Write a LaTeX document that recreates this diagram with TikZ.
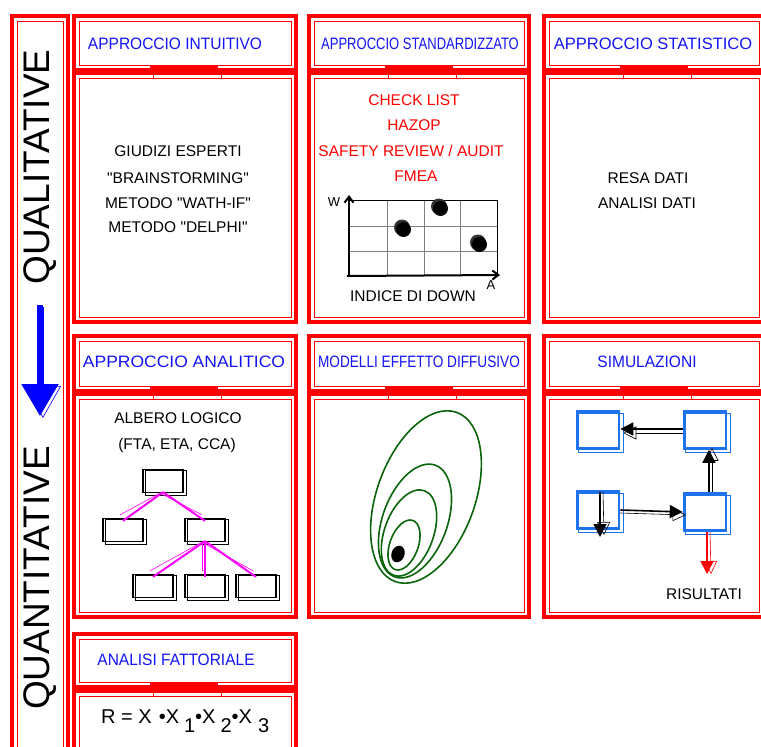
\documentclass[tikz,border=0pt]{standalone}
\usepackage{fontspec}
\setmainfont{Liberation Sans}
\usetikzlibrary{arrows.meta}
\definecolor{framered}{RGB}{255,0,0}
\definecolor{headblue}{RGB}{20,20,245}
\definecolor{simblue}{RGB}{30,115,235}
\definecolor{plumegreen}{RGB}{10,100,10}
\definecolor{treemagenta}{RGB}{255,0,255}

% double red frame: thick outer line and thin inset line
\newcommand\redframe[4]{%
  \draw[line width=3.4pt,framered] (#1,#2) rectangle (#3,#4);
  \draw[line width=0.9pt,framered] (#1+5,#2+5) rectangle (#3-5,#4-5);}
% red tab joining a header to its panel (centre x, joint y)
\newcommand\jointtab[2]{%
  \fill[framered] (#1-35,#2-5) rectangle (#1+33,#2+3);
  \draw[line width=0.9pt,framered] (#1-32,#2-2) rectangle (#1+36,#2+8);}
\newcommand\sq{\textquotedbl}

\begin{document}
\begin{tikzpicture}[x=1pt,y=-1pt,
  hdr/.style={text=headblue,font=\fontsize{16.5}{18}\selectfont,inner sep=0},
  body/.style={font=\fontsize{15.5}{17}\selectfont,inner sep=0,align=center},
  redtxt/.style={body,text=framered},
  treebox/.style={draw=black,line width=1.3pt,minimum width=40pt,minimum height=23pt,inner sep=0},
  treeline/.style={treemagenta,line width=2pt},
  simbox/.style={draw=simblue,line width=2.6pt,minimum width=42pt,minimum height=37pt,inner sep=0},
  simarrow/.style={black,line width=1.6pt,-{Triangle[length=13pt,width=13pt]}},
  simghost/.style={black,line width=0.6pt,-{Triangle[open,length=13pt,width=13pt]}},
]
\useasboundingbox (0,0) rectangle (761,747);
\fill[white] (0,0) rectangle (761,747);

% ---- left strip: qualitative to quantitative ----
\draw[line width=3.4pt,framered] (12,16) rectangle (68,760);
\draw[line width=0.9pt,framered] (17,21) rectangle (63,760);
\node[rotate=90,font=\fontsize{37}{40}\selectfont,inner sep=0] (qual) at (40,167) {QUALITATIVE};
\node[rotate=90,font=\fontsize{37}{40}\selectfont,inner sep=0] (quant) at (40,578) {QUANTITATIVE};
\coordinate (dirtop) at (40,305);
\coordinate (dirend) at (40,416);
\draw[blue,line width=5.5pt,-{Triangle[length=32pt,width=36pt]}] (dirtop) -- (dirend);
\draw[blue,line width=0.6pt,-{Triangle[open,length=32pt,width=36pt]}] ([shift={(3,2)}]dirtop) -- ([shift={(3,2)}]dirend);

% ---- row 1 ----
\redframe{74}{16}{296}{70}
\redframe{74}{73}{296}{322}
\jointtab{185}{70}
\redframe{309}{16}{529}{70}
\redframe{309}{73}{529}{322}
\jointtab{420}{70}
\redframe{544}{16}{764}{70}
\redframe{544}{73}{764}{322}
\jointtab{655}{70}

\node[hdr] (h1) at (175,44) {\scalebox{0.94}[1]{APPROCCIO INTUITIVO}};
\node[hdr] (h2) at (420,44) {\scalebox{0.79}[1]{APPROCCIO STANDARDIZZATO}};
\node[hdr] (h3) at (653,44) {\scalebox{1.0}[1]{APPROCCIO STATISTICO}};

\node[body] (i1) at (178,151) {GIUDIZI ESPERTI};
\node[body] (i2) at (178,178) {\sq BRAINSTORMING\sq};
\node[body] (i3) at (178,203) {METODO \sq WATH-IF\sq};
\node[body] (i4) at (178,227) {METODO \sq DELPHI\sq};

\node[redtxt] (c1) at (414,100) {CHECK LIST};
\node[redtxt] (c2) at (414,125) {HAZOP};
\node[redtxt] (c3) at (411,151) {SAFETY REVIEW / AUDIT};
\node[redtxt] (c4) at (416,176) {FMEA};

% down-index chart
\foreach \gx in {387,424,460,497} \draw[gray,line width=0.8pt] (\gx,200) -- (\gx,275);
\foreach \gy in {200,226,251} \draw[gray,line width=0.8pt] (349,\gy) -- (497,\gy);
\draw[black,line width=0.9pt] (349,200) -- (497,200) -- (497,275);
\coordinate (orig) at (349,276);
\coordinate (wtip) at (349,195);
\coordinate (atip) at (500,275);
\draw[black,line width=2pt,-{Straight Barb[length=6pt,width=9pt]}] (orig) -- (wtip);
\draw[black,line width=2pt,-{Straight Barb[length=6pt,width=9pt]}] ([xshift=-2]orig) -- (atip);
\node[font=\fontsize{13}{14}\selectfont,inner sep=0] (wlab) at (334,202) {W};
\node[font=\fontsize{13}{14}\selectfont,inner sep=0] (alab) at (491,285) {A};
\foreach \dx/\dy in {403/229,440/208,479/244} {
  \fill[black!80] (\dx-1,\dy-1.5) circle (8);
  \fill[black] (\dx+0.5,\dy+0.5) circle (7.5);
}
\node[body] (idx) at (413,296) {INDICE DI DOWN};

\node[body] (s1) at (648,178) {RESA DATI};
\node[body] (s2) at (647,203) {ANALISI DATI};

% ---- row 2 ----
\redframe{74}{336}{296}{391}
\redframe{74}{394}{296}{617}
\jointtab{185}{391}
\redframe{309}{336}{529}{391}
\redframe{309}{394}{529}{617}
\jointtab{420}{391}
\redframe{544}{336}{764}{391}
\redframe{544}{394}{764}{617}
\jointtab{655}{391}

\node[hdr] (h4) at (184,362) {\scalebox{1.06}[1]{APPROCCIO ANALITICO}};
\node[hdr] (h5) at (419,362) {\scalebox{0.825}[1]{MODELLI EFFETTO DIFFUSIVO}};
\node[hdr] (h6) at (647,362) {\scalebox{0.94}[1]{SIMULAZIONI}};

% logic tree
\node[body] (al1) at (178,418) {ALBERO LOGICO};
\node[body] (al2) at (177,445) {(FTA, ETA, CCA)};
\node[treebox] (t0) at (163,481) {};
\node[treebox] (t1) at (123,530) {};
\node[treebox] (t2) at (205,530) {};
\node[treebox] (t3) at (153,586) {};
\node[treebox] (t4) at (205,586) {};
\node[treebox] (t5) at (256,586) {};
\foreach \t in {t0,t1,t2,t3,t4,t5}
  \draw[black,line width=0.8pt] ([shift={(3,2)}]\t.north west) rectangle ([shift={(3,2)}]\t.south east);
\foreach \a/\b in {t0/t1,t0/t2,t2/t3,t2/t4,t2/t5} {
  \draw[treeline] ([yshift=1]\a.south) -- ([yshift=-3]\b.north);
  \draw[treemagenta,line width=0.6pt] ([shift={(-3,0)}]\a.south) -- ([shift={(-3,-3)}]\b.north);
}

% diffusion plume
\foreach \cx/\cy/\s in {426/497/1,415/521/0.66,409/533/0.5,404/545/0.29}
  \draw[plumegreen,line width=1.6pt,shift={(\cx,\cy)},rotate=70] (0,0) ellipse [x radius=90*\s, y radius=49*\s];
\fill[black,shift={(398,554)},rotate=70] (0,0) ellipse [x radius=8.5, y radius=6.5];

% simulation loop
\node[simbox] (m1) at (598,430) {};
\node[simbox] (m2) at (705,430) {};
\node[simbox] (m3) at (598,510) {};
\node[simbox] (m4) at (705,512) {};
\foreach \m in {m1,m2,m3,m4}
  \draw[simblue,line width=0.8pt] ([shift={(3,3)}]\m.north west) rectangle ([shift={(3,3)}]\m.south east);
\draw[simarrow] ([yshift=1]m2.west) -- ([yshift=1]m1.east);
\draw[simghost] ([shift={(0,3)}]m2.west) -- ([shift={(3,3)}]m1.east);
\draw[simarrow] ([xshift=4]m4.north) -- ([xshift=4]m2.south);
\draw[simghost] ([xshift=7]m4.north) -- ([xshift=7,yshift=2]m2.south);
\draw[simarrow] (m3.east) -- (m4.west);
\draw[simghost] ([shift={(0,3)}]m3.east) -- ([shift={(3,3)}]m4.west);
\coordinate (m3in) at (600,492);
\coordinate (m3out) at (600,537);
\draw[simarrow] (m3in) -- (m3out);
\draw[simghost] ([shift={(3,0)}]m3in) -- ([shift={(4,-2)}]m3out);
\coordinate (res) at (707,574);
\draw[framered,line width=1.6pt,-{Triangle[length=13pt,width=13pt]}] ([xshift=2]m4.south) -- (res);
\draw[framered,line width=0.6pt,-{Triangle[open,length=13pt,width=13pt]}] ([xshift=5]m4.south) -- ([xshift=4]res);
\node[body] (ris) at (704,594) {RISULTATI};

% ---- row 3 ----
\redframe{74}{634}{296}{687}
\redframe{74}{691}{296}{760}
\jointtab{185}{688}
\node[hdr] (h7) at (176,660) {\scalebox{0.94}[1]{ANALISI FATTORIALE}};
\node[anchor=base west,font=\fontsize{20}{22}\selectfont,inner sep=0] (form) at (101,723)
  {R = X\hspace{7pt}•X\hspace{5pt}\raisebox{-9pt}{1}•X\hspace{5pt}\raisebox{-9pt}{2}•X\hspace{6pt}\raisebox{-9pt}{3}};
\end{tikzpicture}
\end{document}
